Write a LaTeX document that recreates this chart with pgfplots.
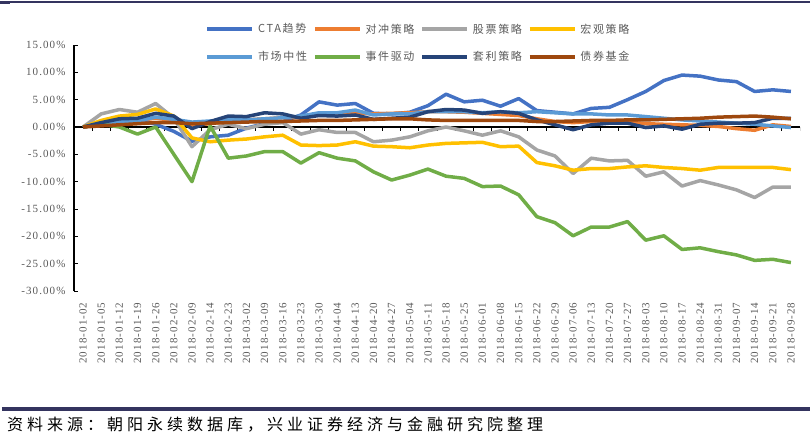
\documentclass[border=0pt]{standalone}
\usepackage{pgfplots}
\pgfplotsset{compat=1.18}
\usepackage{pgfplotstable}
\usepackage{fontspec}
\setmainfont{Liberation Serif}
\newfontfamily\numfont[LetterSpace=10]{Liberation Serif}
\newfontfamily\cjk[LetterSpace=15]{Noto Sans CJK SC}
\newfontfamily\cjksrc[LetterSpace=25]{Noto Sans CJK SC}
\definecolor{txt}{HTML}{595959}
\definecolor{rulec}{HTML}{34345F}
\definecolor{cCTA}{HTML}{4472C4}
\definecolor{cDC}{HTML}{ED7D31}
\definecolor{cGP}{HTML}{A5A5A5}
\definecolor{cHG}{HTML}{FFC000}
\definecolor{cSC}{HTML}{5B9BD5}
\definecolor{cSJ}{HTML}{70AD47}
\definecolor{cTL}{HTML}{264478}
\definecolor{cZQ}{HTML}{9E480E}
\pgfplotstableread{
x cta dc gp hg sc sj tl zq
0 0 0 0 0 0 0 0 0
1 0.6 0.5 2.4 1.2 0.5 0.5 0.8 0.2
2 1.1 0.9 3.2 2.0 0.9 0.0 1.5 0.4
3 1.3 1.2 2.7 2.3 1.1 -1.3 1.6 0.6
4 0.5 1.6 4.3 3.3 1.8 0.0 2.5 0.8
5 -0.8 1.2 1.6 2.0 1.4 -5.0 2.0 0.8
6 -2.6 0.3 -3.6 -2.0 0.9 -10.0 -0.3 0.6
7 -1.8 0.6 -0.5 -2.7 1.1 0.2 1.0 0.7
8 -1.5 1.0 0.5 -2.4 1.3 -5.7 2.0 0.8
9 -0.2 1.3 -0.3 -2.2 1.3 -5.3 1.9 0.9
10 0.6 1.5 0.5 -1.8 1.5 -4.5 2.6 1.0
11 1.0 1.7 0.8 -1.5 1.7 -4.5 2.4 1.0
12 2.2 1.9 -1.3 -3.3 2.0 -6.6 1.6 1.1
13 4.6 2.2 -0.5 -3.4 2.6 -4.7 2.1 1.2
14 4.0 2.3 -1.0 -3.3 2.6 -5.7 2.0 1.2
15 4.3 2.5 -1.0 -2.7 3.1 -6.2 2.2 1.3
16 2.5 2.4 -2.7 -3.5 2.2 -8.2 1.4 1.4
17 2.4 2.5 -2.4 -3.6 2.4 -9.7 1.6 1.5
18 2.7 2.6 -1.8 -3.8 2.4 -8.8 1.8 1.5
19 3.9 2.8 -0.7 -3.3 2.8 -7.7 2.8 1.3
20 6.0 2.8 0.0 -3.0 2.8 -9.0 3.2 1.2
21 4.6 2.7 -0.7 -2.9 2.8 -9.4 3.1 1.2
22 4.9 2.5 -1.5 -2.8 2.6 -10.9 2.5 1.2
23 3.8 2.3 -0.7 -3.6 2.8 -10.8 2.8 1.2
24 5.2 2.1 -1.8 -3.5 2.6 -12.4 2.5 1.2
25 3.0 1.5 -4.2 -6.5 2.8 -16.4 1.3 1.0
26 2.7 1.0 -5.3 -7.1 2.6 -17.5 0.4 1.0
27 2.4 0.8 -8.5 -7.9 2.4 -19.9 -0.5 1.1
28 3.4 1.0 -5.7 -7.6 2.4 -18.3 0.4 1.2
29 3.6 1.0 -6.2 -7.6 2.2 -18.3 0.7 1.2
30 5.0 0.9 -6.1 -7.3 2.2 -17.3 0.7 1.3
31 6.5 0.6 -9.0 -7.1 1.9 -20.7 -0.1 1.3
32 8.5 0.5 -8.2 -7.4 1.6 -19.9 0.2 1.4
33 9.5 0.4 -10.8 -7.6 1.3 -22.4 -0.4 1.5
34 9.3 0.3 -9.8 -7.9 1.1 -22.1 0.5 1.6
35 8.6 0.1 -10.6 -7.4 0.9 -22.8 0.7 1.8
36 8.3 -0.3 -11.5 -7.4 0.7 -23.4 0.7 1.9
37 6.5 -0.6 -12.9 -7.4 0.5 -24.4 0.8 2.0
38 6.8 0.4 -11.0 -7.4 0.2 -24.2 1.6 1.8
39 6.5 0.1 -11.0 -7.8 -0.1 -24.8 1.6 1.5
}\data
\pgfplotsset{
  legend image code/.code={\draw[#1] (0pt,0pt) -- (45pt,0pt);}
}
\begin{document}
\begin{tikzpicture}
\useasboundingbox (-74pt,-148pt) rectangle (736pt,291pt);
\begin{axis}[
  at={(0,0)}, anchor=south west,
  scale only axis, width=726pt, height=246pt,
  xmin=-0.5, xmax=39.5, ymin=-30, ymax=15,
  axis lines*=left,
  x axis line style={draw=none},
  y axis line style={line width=1.5pt},
  xtick={0,...,39},
  xticklabels={2018-01-02,2018-01-05,2018-01-12,2018-01-19,2018-01-26,2018-02-02,2018-02-09,2018-02-14,2018-02-23,2018-03-02,2018-03-09,2018-03-16,2018-03-23,2018-03-30,2018-04-04,2018-04-13,2018-04-20,2018-04-27,2018-05-04,2018-05-11,2018-05-18,2018-05-25,2018-06-01,2018-06-08,2018-06-15,2018-06-22,2018-06-29,2018-07-06,2018-07-13,2018-07-20,2018-07-27,2018-08-03,2018-08-10,2018-08-17,2018-08-24,2018-08-31,2018-09-07,2018-09-14,2018-09-21,2018-09-28},
  x tick label style={rotate=90, anchor=east, font=\numfont\fontsize{11}{11}\selectfont, text=txt},
  xticklabel shift=8pt,
  xtick style={draw=none},
  ytick={-30,-25,...,15},
  yticklabels={-30.00\%,-25.00\%,-20.00\%,-15.00\%,-10.00\%,-5.00\%,0.00\%,5.00\%,10.00\%,15.00\%},
  y tick label style={font=\numfont\fontsize{11}{11}\selectfont, text=txt},
  yticklabel shift=5pt,
  tick align=inside,
  major tick length=4pt,
  ytick style={black, line width=1pt},
  every axis plot/.append style={line width=3.5pt, line join=round, no markers},
  legend columns=4,
  legend style={at={(0.4745,1.008)}, anchor=center, draw=none, fill=none,
    font=\cjk\fontsize{11}{11}\selectfont, text=txt,
    /tikz/row sep=13pt,
    /tikz/every odd column/.append style={column sep=2pt},
    /tikz/every even column/.append style={column sep=4pt}},
  legend cell align=left,
]
\draw[black, line width=1.5pt] (axis cs:-0.5,0) -- (axis cs:39.5,0);
\pgfplotsinvokeforeach{0.5,1.5,...,39.5}{\draw[black, line width=0.8pt] (axis cs:#1,0) -- ++(0pt,-4pt);}
\addplot[cCTA] table[x=x,y=cta]{\data}; \addlegendentry{CTA趋势}
\addplot[cDC] table[x=x,y=dc]{\data}; \addlegendentry{对冲策略}
\addplot[cGP] table[x=x,y=gp]{\data}; \addlegendentry{股票策略}
\addplot[cHG] table[x=x,y=hg]{\data}; \addlegendentry{宏观策略}
\addplot[cSC] table[x=x,y=sc]{\data}; \addlegendentry{市场中性}
\addplot[cSJ] table[x=x,y=sj]{\data}; \addlegendentry{事件驱动}
\addplot[cTL] table[x=x,y=tl]{\data}; \addlegendentry{套利策略}
\addplot[cZQ] table[x=x,y=zq]{\data}; \addlegendentry{债券基金}
\end{axis}
\draw[rulec, line width=1.5pt] (-74pt,289pt) -- (736pt,289pt);
\fill[rulec] (-74pt,287pt) rectangle (-64pt,290pt);
\draw[rulec, line width=3.5pt] (-72pt,-118pt) -- (736pt,-118pt);
\node[anchor=west, inner sep=0pt, font=\cjksrc\fontsize{16}{16}\selectfont, text=black] at (-67pt,-134pt) {资料来源：朝阳永续数据库，兴业证券经济与金融研究院整理};
\end{tikzpicture}
\end{document}
